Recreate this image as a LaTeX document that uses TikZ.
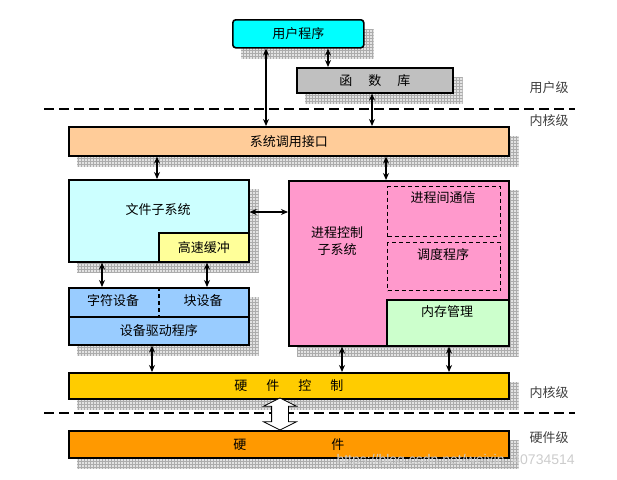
\documentclass[tikz,border=0pt]{standalone}
\usepackage{fontspec}
\newfontfamily\cjk{Noto Sans CJK SC}
\newfontfamily\wmfont{Liberation Sans}
\usetikzlibrary{arrows.meta,calc,patterns,backgrounds,shapes.arrows}
\definecolor{usercyan}{HTML}{00FFFF}
\definecolor{libgray}{HTML}{C0C0C0}
\definecolor{syspeach}{HTML}{FFCC99}
\definecolor{filecyan}{HTML}{CCFFFF}
\definecolor{cacheyellow}{HTML}{FFFF99}
\definecolor{devblue}{HTML}{99CCFF}
\definecolor{procpink}{HTML}{FF99CC}
\definecolor{memgreen}{HTML}{CCFFCC}
\definecolor{ctlgold}{HTML}{FFCC00}
\definecolor{hworange}{HTML}{FF9900}
\tikzset{
	box/.style = {draw, line width = 1.6pt, anchor = north west, inner sep = 0pt,
		font = \cjk\fontsize{13}{17}\selectfont},
	subbox/.style = {draw, dashed, line width = 1.1pt, dash pattern = on 4pt off 3pt,
		anchor = north west, inner sep = 0pt},
	txt/.style = {font = \cjk\fontsize{13}{17}\selectfont, inner sep = 1pt, align = center},
	lvl/.style = {font = \cjk\fontsize{13}{15}\selectfont, text = black!75, inner sep = 1pt},
	link/.style = {{Stealth[length = 7pt, width = 6pt]}-{Stealth[length = 7pt, width = 6pt]}, line width = 1.4pt},
	levelline/.style = {line width = 2.4pt, dash pattern = on 10pt off 5pt},
	boxshade/.style = {fill = gray!22, postaction = {pattern = grid, pattern color = gray!65}}
}
\begin{document}
\begin{tikzpicture}[x = 1pt, y = -1pt]
	\useasboundingbox (0,0) rectangle (617,479);
	\draw[levelline] (44,109) -- (575,109);
	\draw[levelline] (44,413) -- (575,413);
	\node[lvl] (lvuser) at (549,88) {用户级};
	\node[lvl] (lvkern) at (549,121) {内核级};
	\node[lvl] (lvkern2) at (549,393) {内核级};
	\node[lvl] (lvhw) at (549,438) {硬件级};

	\node[box, fill = usercyan, rounded corners = 3pt, minimum width = 131pt, minimum height = 28pt] (user) at (232,19) {用户程序};
	\node[box, fill = libgray, minimum width = 156pt, minimum height = 25pt] (lib) at (296,67) {函\hspace{16pt}数\hspace{16pt}库};
	\node[box, fill = syspeach, minimum width = 440pt, minimum height = 29pt] (sys) at (68,126) {系统调用接口};
	\node[box, fill = filecyan, minimum width = 180pt, minimum height = 82pt] (file) at (68,179) {};
	\node[box, fill = cacheyellow, minimum width = 90pt, minimum height = 29pt] (cache) at (158,232) {高速缓冲};
	\node[txt] (filetxt) at (158,210) {文件子系统};
	\node[box, fill = devblue, minimum width = 180pt, minimum height = 29pt] (devtop) at (68,287) {};
	\node[box, fill = devblue, minimum width = 180pt, minimum height = 28pt] (drv) at (68,316) {设备驱动程序};
	\draw[line width = 1.3pt, dash pattern = on 4pt off 3pt] (devtop.north -| 159,0) -- (devtop.south -| 159,0);
	\node[txt] (chrdev) at (113,301) {字符设备};
	\node[txt] (blkdev) at (203,301) {块设备};
	\node[box, fill = procpink, minimum width = 220pt, minimum height = 165pt] (proc) at (288,180) {};
	\node[subbox, minimum width = 113pt, minimum height = 50pt] (ipc) at (387,186) {};
	\node[subbox, minimum width = 113pt, minimum height = 48pt] (sched) at (387,242) {};
	\node[box, fill = memgreen, minimum width = 122pt, minimum height = 46pt] (mem) at (386,299) {};
	\node[txt] (proctxt) at (337,241) {进程控制\\子系统};
	\node[txt] (ipctxt) at (443,198) {进程间通信};
	\node[txt] (schedtxt) at (443,255) {调度程序};
	\node[txt] (memtxt) at (447,312) {内存管理};
	\node[box, fill = ctlgold, minimum width = 440pt, minimum height = 26pt] (hwctl) at (68,372) {硬\hspace{19pt}件\hspace{19pt}控\hspace{19pt}制};
	\node[box, fill = hworange, minimum width = 440pt, minimum height = 27pt] (hw) at (68,430) {硬\hspace{85pt}件};

	\begin{scope}[on background layer]
		\foreach \b in {user, lib, sys, file, proc, hwctl, hw}
			\fill[boxshade] ($(\b.south west)+(9,10)$) rectangle ($(\b.north east)+(9,10)$);
		\fill[boxshade] ($(drv.south west)+(9,10)$) rectangle ($(devtop.north east)+(9,10)$);
	\end{scope}

	\draw[link] (user.south -| 266,0) -- (sys.north -| 266,0);
	\draw[link] (user.south -| 328,0) -- (lib.north -| 328,0);
	\draw[link] (lib.south -| 372,0) -- (sys.north -| 372,0);
	\draw[link] (sys.south -| 157,0) -- (file.north -| 157,0);
	\draw[link] (sys.south -| 386,0) -- (proc.north -| 386,0);
	\draw[link] (file.east |- 0,212) -- (proc.west |- 0,212);
	\draw[link] (file.south -| 102,0) -- (devtop.north -| 102,0);
	\draw[link] (cache.south -| 207,0) -- (devtop.north -| 207,0);
	\draw[link] (drv.south -| 152,0) -- (hwctl.north -| 152,0);
	\draw[link] (proc.south -| 342,0) -- (hwctl.north -| 342,0);
	\draw[link] (mem.south -| 449,0) -- (hwctl.north -| 449,0);
	\node[double arrow, draw, fill = white, line width = 0.8pt, rotate = 90, minimum height = 32pt,
		minimum width = 0pt, inner sep = 8pt, double arrow head extend = 8pt, double arrow tip angle = 127] (updown) at (280,414) {};

	\node[font = \wmfont\fontsize{14}{14}\selectfont, text = gray!40, anchor = west] (wm) at (333,461) {https://blog.csdn.net/weixin\_40734514};
\end{tikzpicture}
\end{document}
